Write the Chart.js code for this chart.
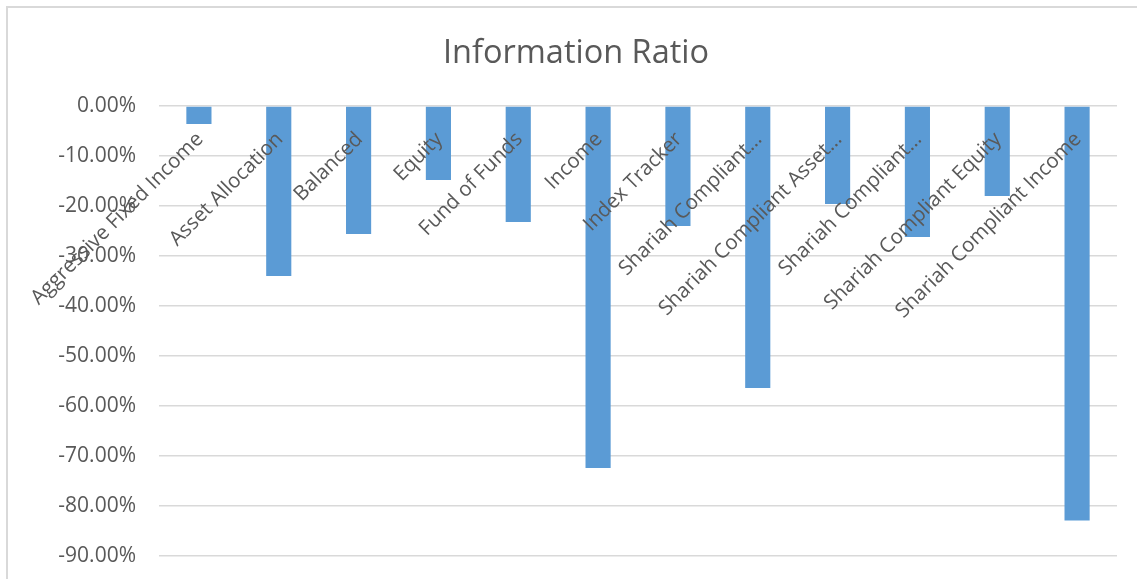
<!DOCTYPE html>
<html>
<head>
<meta charset="utf-8">
<script src="https://cdn.jsdelivr.net/npm/chart.js@4"></script>
<style>
  html, body { margin: 0; padding: 0; background: #fff; overflow: hidden; }
  canvas { display: block; }
</style>
</head>
<body>
<canvas id="ratioChart" width="1137" height="579"></canvas>
<script>
// Categories as shown on the axis (long ones are cut off in the original)
const categories = [
    'Aggressive Fixed Income',
    'Asset Allocation',
    'Balanced',
    'Equity',
    'Fund of Funds',
    'Income',
    'Index Tracker',
    'Shariah Compliant…',
    'Shariah Compliant Asset…',
    'Shariah Compliant…',
    'Shariah Compliant Equity',
    'Shariah Compliant Income'
];

// Information ratio, in percent
const ratioValues = [-3.6, -34.0, -25.6, -14.8, -23.2, -72.4, -24.0, -56.4, -19.6, -26.2, -18.0, -82.9];

// Value axis ticks
const yTicks = [0, -10, -20, -30, -40, -50, -60, -70, -80, -90];

const labelFont = '20.5px "Open Sans"';
const textGray = '#595959';

// Frame line like the Excel chart border
const framePlugin = {
    id: 'frame',
    beforeDraw(chart) {
        const ctx = chart.ctx;
        ctx.save();
        ctx.strokeStyle = '#d9d9d9';
        ctx.lineWidth = 2;
        ctx.beginPath();
        ctx.moveTo(7, chart.height);
        ctx.lineTo(7, 7);
        ctx.lineTo(chart.width, 7);
        ctx.stroke();
        ctx.restore();
    }
};

// Category labels sit under the zero line, slanted
const categoryLabels = {
    id: 'categoryLabels',
    afterDatasetsDraw(chart) {
        const ctx = chart.ctx;
        const x = chart.scales.x;
        const y0 = chart.scales.y.getPixelForValue(0);
        ctx.save();
        ctx.font = labelFont;
        ctx.fillStyle = textGray;
        ctx.textAlign = 'right';
        ctx.textBaseline = 'middle';
        categories.forEach((name, i) => {
            const cx = x.getPixelForValue(i);
            ctx.save();
            ctx.translate(cx + 1, y0 + 30);
            ctx.rotate(-Math.PI / 4);
            ctx.fillText(name, 0, 0);
            ctx.restore();
        });
        ctx.restore();
    }
};

document.addEventListener('DOMContentLoaded', () => {
    const ctx = document.getElementById('ratioChart').getContext('2d');
    new Chart(ctx, {
        type: 'bar',
        data: {
            labels: categories,
            datasets: [{
                label: 'Information Ratio',
                data: ratioValues,
                backgroundColor: '#5b9bd5',
                borderWidth: 0,
                categoryPercentage: 1,
                barPercentage: 0.315
            }]
        },
        options: {
            responsive: false,
            animation: false,
            layout: {
                padding: { top: 0, bottom: 23, left: 35, right: 20 }
            },
            plugins: {
                legend: { display: false },
                tooltip: { enabled: false },
                title: {
                    display: true,
                    text: 'Information Ratio',
                    color: textGray,
                    font: { family: 'Open Sans', size: 32.5, weight: 'normal' },
                    padding: { top: 34, bottom: 33 }
                }
            },
            scales: {
                x: {
                    display: false
                },
                y: {
                    min: -90,
                    max: 0,
                    afterFit(scale) { scale.width = 124; },
                    afterBuildTicks(scale) {
                        scale.ticks = yTicks.map(v => ({ value: v }));
                    },
                    border: { display: false },
                    grid: {
                        color: '#d9d9d9',
                        lineWidth: 1.5,
                        drawTicks: true,
                        tickLength: 23,
                        tickColor: 'rgba(0,0,0,0)'
                    },
                    ticks: {
                        padding: 0,
                        color: textGray,
                        font: { family: 'Open Sans', size: 21 },
                        callback: v => v.toFixed(2) + '%'
                    }
                }
            }
        },
        plugins: [framePlugin, categoryLabels]
    });
});
</script>
</body>
</html>
